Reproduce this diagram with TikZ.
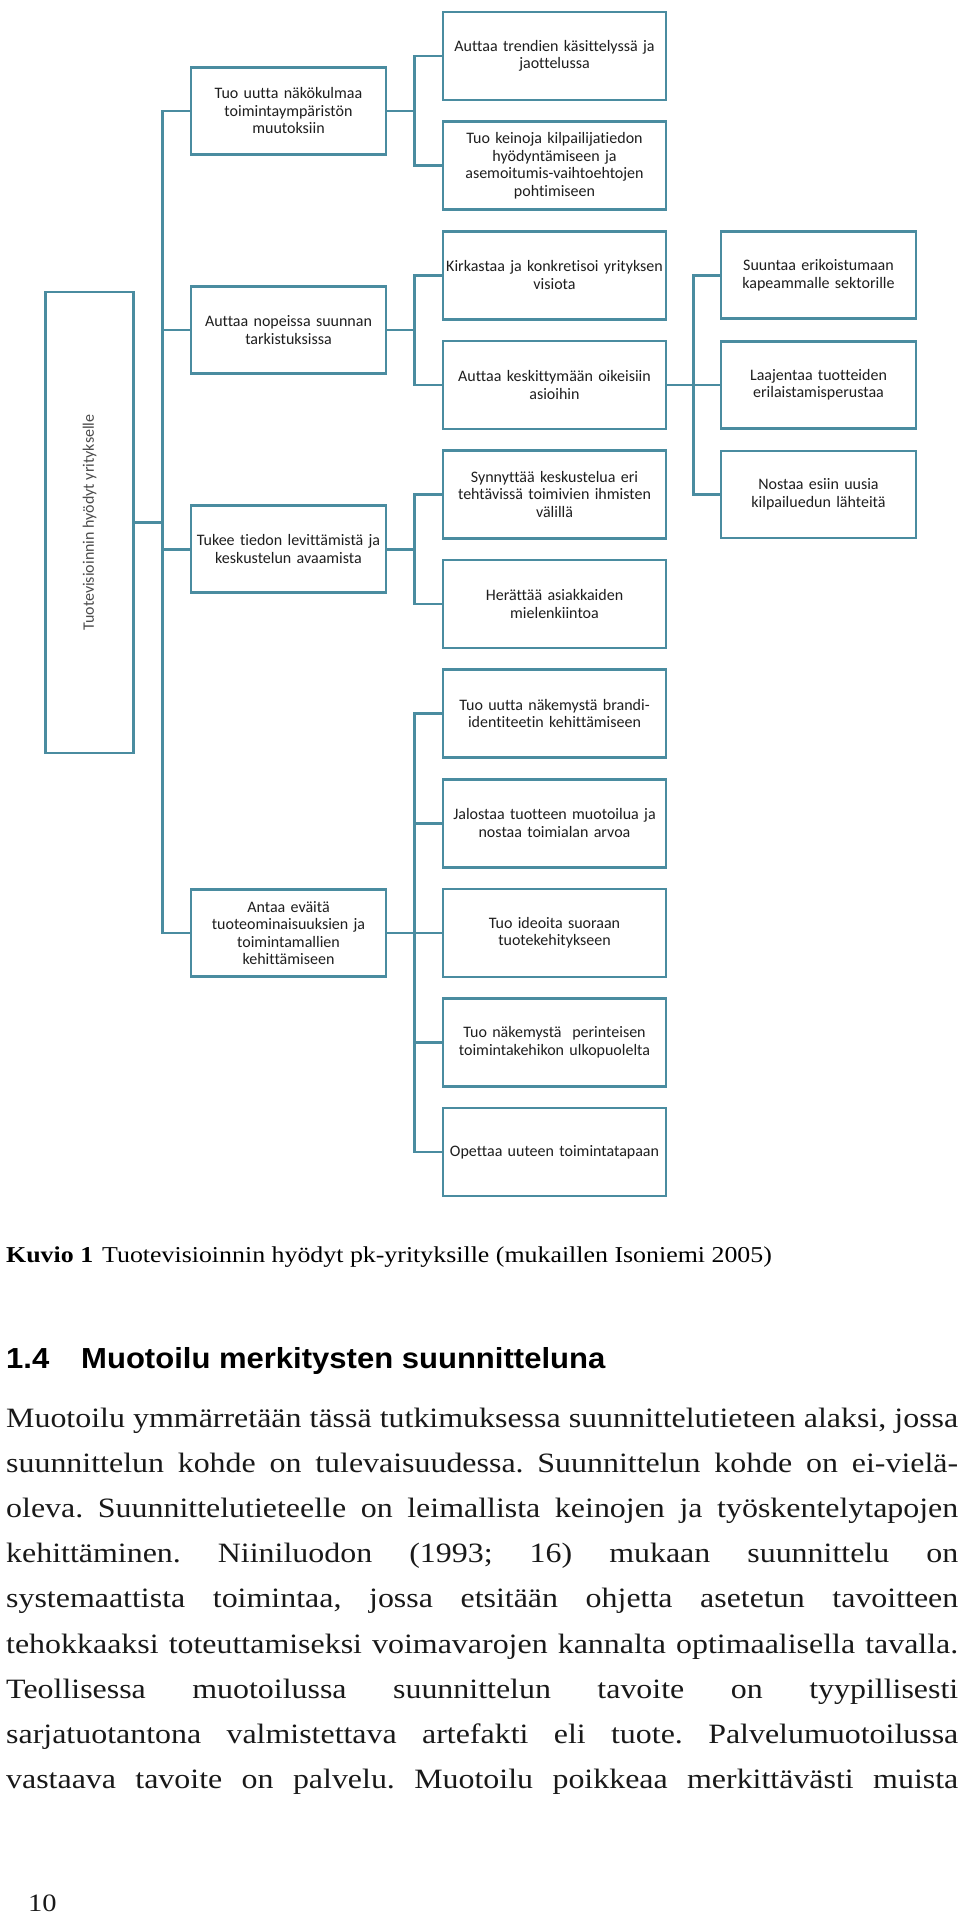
\documentclass[tikz,border=0pt]{standalone}
\usepackage{fontspec}
\setmainfont[FakeStretch=1.14]{Liberation Serif}
\newfontfamily\boxfont[Ligatures=NoCommon]{Carlito}
\newfontfamily\headfont[FakeStretch=1.07]{Liberation Sans}
\usetikzlibrary{calc, positioning}
\definecolor{boxblue}{RGB}{74,140,160}
\definecolor{boxtext}{RGB}{30,30,30}
\tikzstyle{bbox} = [rectangle, minimum width=223pt, minimum height=88pt, text width=223pt, inner xsep=0pt, align=center, draw=boxblue, line width=2.6pt, text=boxtext, font=\boxfont\fontsize{16}{17.5}\selectfont, execute at begin node={\hyphenpenalty=10000}]
\tikzstyle{abox} = [bbox, minimum width=195pt, minimum height=87pt, text width=195pt]
\tikzstyle{rootbox} = [rectangle, minimum width=461pt, minimum height=88pt, draw=boxblue, line width=2.6pt, rotate=90, text=black!70, font=\boxfont\fontsize{16}{17.5}\selectfont]
\tikzstyle{link} = [line width=2.6pt, draw=boxblue]
\tikzstyle{bodyline} = [anchor=base west, inner sep=0pt, text=black!90, font=\fontsize{28}{32}\selectfont]

\begin{document}
\frenchspacing
\begin{tikzpicture}[x=1pt, y=-1pt, node distance=109.6pt]

\fill[white] (0,0) rectangle (960,1915);
\useasboundingbox (0,0) rectangle (960,1915);

% second level
\node[bbox] (b1) at (554.5,56) {Auttaa trendien käsittelyssä ja\\jaottelussa};
\node[bbox, below of = b1] (b2) {Tuo keinoja kilpailijatiedon\\hyödyntämiseen ja\\asemoitumis-vaihtoehtojen\\pohtimiseen};
\node[bbox, below of = b2] (b3) {Kirkastaa ja konkretisoi yrityksen\\visiota};
\node[bbox, below of = b3] (b4) {Auttaa keskittymään oikeisiin\\asioihin};
\node[bbox, below of = b4] (b5) {Synnyttää keskustelua eri\\tehtävissä toimivien ihmisten\\välillä};
\node[bbox, below of = b5] (b6) {Herättää asiakkaiden\\mielenkiintoa};
\node[bbox, below of = b6] (b7) {Tuo uutta näkemystä brandi-\\identiteetin kehittämiseen};
\node[bbox, below of = b7] (b8) {Jalostaa tuotteen muotoilua ja\\nostaa toimialan arvoa};
\node[bbox, below of = b8] (b9) {Tuo ideoita suoraan\\tuotekehitykseen};
\node[bbox, below of = b9] (b10) {Tuo näkemystä\ \ perinteisen\\toimintakehikon ulkopuolelta};
\node[bbox, below of = b10] (b11) {Opettaa uuteen toimintatapaan};

% first level
\node[abox, left of = b1, xshift = -156.4pt, yshift = -54.8pt] (a1) {Tuo uutta näkökulmaa\\toimintaympäristön\\muutoksiin};
\node[abox, left of = b3, xshift = -156.4pt, yshift = -54.8pt] (a2) {Auttaa nopeissa suunnan\\tarkistuksissa};
\node[abox, left of = b5, xshift = -156.4pt, yshift = -54.8pt] (a3) {Tukee tiedon levittämistä ja\\keskustelun avaamista};
\node[abox, left of = b9, xshift = -156.4pt] (a4) {Antaa eväitä\\tuoteominaisuuksien ja\\toimintamallien\\kehittämiseen};

% third level
\node[abox, right of = b3, xshift = 154.4pt] (c1) {Suuntaa erikoistumaan\\kapeammalle sektorille};
\node[abox, below of = c1] (c2) {Laajentaa tuotteiden\\erilaistamisperustaa};
\node[abox, below of = c2] (c3) {Nostaa esiin uusia\\kilpailuedun lähteitä};

\node[rootbox] (root) at (89.5,522.5) {Tuotevisioinnin hyödyt yritykselle};

\draw[link] (root.south) -| ($(root.south)!0.5!(a1.west)$) |- (a1.west);
\draw[link] (root.south) -| ($(root.south)!0.5!(a2.west)$) |- (a2.west);
\draw[link] (root.south) -| ($(root.south)!0.5!(a3.west)$) |- (a3.west);
\draw[link] (root.south) -| ($(root.south)!0.5!(a4.west)$) |- (a4.west);

\draw[link] (a1.east) -| ($(a1.east)!0.5!(b1.west)$) |- (b1.west);
\draw[link] (a1.east) -| ($(a1.east)!0.5!(b2.west)$) |- (b2.west);
\draw[link] (a2.east) -| ($(a2.east)!0.5!(b3.west)$) |- (b3.west);
\draw[link] (a2.east) -| ($(a2.east)!0.5!(b4.west)$) |- (b4.west);
\draw[link] (a3.east) -| ($(a3.east)!0.5!(b5.west)$) |- (b5.west);
\draw[link] (a3.east) -| ($(a3.east)!0.5!(b6.west)$) |- (b6.west);
\draw[link] (a4.east) -| ($(a4.east)!0.5!(b7.west)$) |- (b7.west);
\draw[link] (a4.east) -| ($(a4.east)!0.5!(b8.west)$) |- (b8.west);
\draw[link] (a4.east) -- (b9.west);
\draw[link] (a4.east) -| ($(a4.east)!0.5!(b10.west)$) |- (b10.west);
\draw[link] (a4.east) -| ($(a4.east)!0.5!(b11.west)$) |- (b11.west);

\draw[link] (b4.east) -| ($(b4.east)!0.5!(c1.west)$) |- (c1.west);
\draw[link] (b4.east) -- (c2.west);
\draw[link] (b4.east) -| ($(b4.east)!0.5!(c3.west)$) |- (c3.west);

% text below the figure
\node[anchor=base west, inner sep=0pt, font=\fontsize{22.7}{26}\selectfont] (caption) at (6,1262) {\textbf{Kuvio 1}\hspace{9pt}Tuotevisioinnin hyödyt pk-yrityksille (mukaillen Isoniemi 2005)};
\node[anchor=base west, inner sep=0pt, font=\headfont\bfseries\fontsize{29}{33}\selectfont] (secnum) at (6,1368) {1.4};
\node[anchor=base west, inner sep=0pt, font=\headfont\bfseries\fontsize{29}{33}\selectfont] (sectitle) at (81,1368) {Muotoilu merkitysten suunnitteluna};

\node[bodyline] (l1) at (6,1427) {\makebox[952pt][s]{Muotoilu ymmärretään tässä tutkimuksessa suunnittelutieteen alaksi, jossa}};
\node[bodyline] (l2) at (6,1472.2) {\makebox[952pt][s]{suunnittelun kohde on tulevaisuudessa. Suunnittelun kohde on ei-vielä-}};
\node[bodyline] (l3) at (6,1517.4) {\makebox[952pt][s]{oleva. Suunnittelutieteelle on leimallista keinojen ja työskentelytapojen}};
\node[bodyline] (l4) at (6,1562.6) {\makebox[952pt][s]{kehittäminen. Niiniluodon (1993; 16) mukaan suunnittelu on}};
\node[bodyline] (l5) at (6,1607.8) {\makebox[952pt][s]{systemaattista toimintaa, jossa etsitään ohjetta asetetun tavoitteen}};
\node[bodyline] (l6) at (6,1653) {\makebox[952pt][s]{tehokkaaksi toteuttamiseksi voimavarojen kannalta optimaalisella tavalla.}};
\node[bodyline] (l7) at (6,1698.2) {\makebox[952pt][s]{Teollisessa muotoilussa suunnittelun tavoite on tyypillisesti}};
\node[bodyline] (l8) at (6,1743.4) {\makebox[952pt][s]{sarjatuotantona valmistettava artefakti eli tuote. Palvelumuotoilussa}};
\node[bodyline] (l9) at (6,1788.6) {\makebox[952pt][s]{vastaava tavoite on palvelu. Muotoilu poikkeaa merkittävästi muista}};

\node[bodyline, font=\fontsize{25}{30}\selectfont] (pagenum) at (28,1911) {10};

\end{tikzpicture}
\end{document}
